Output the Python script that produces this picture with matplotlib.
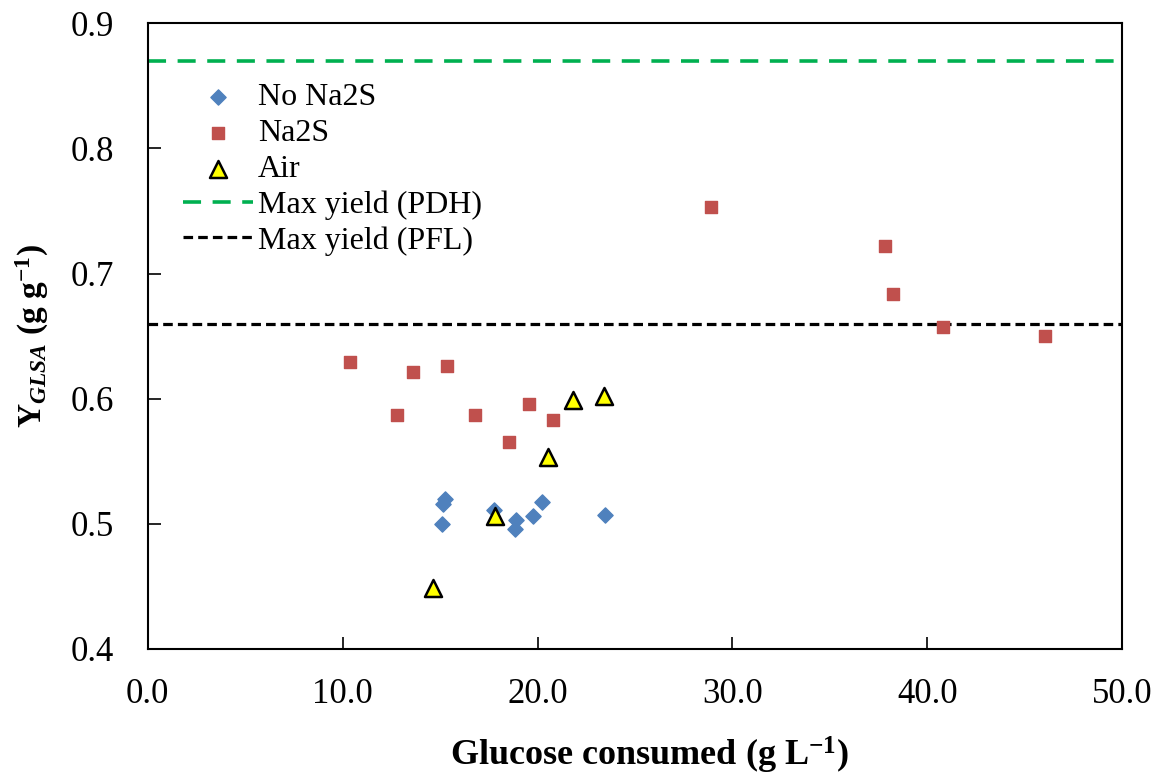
import matplotlib
matplotlib.use("Agg")
import matplotlib.pyplot as plt

plt.rcParams['font.family'] = ['Liberation Serif', 'DejaVu Serif']
plt.rcParams['mathtext.fontset'] = 'custom'
plt.rcParams['mathtext.rm'] = 'Liberation Serif'
plt.rcParams['mathtext.it'] = 'Liberation Serif:italic'
plt.rcParams['mathtext.bf'] = 'Liberation Serif:bold'
plt.rcParams['mathtext.bfit'] = 'Liberation Serif:bold:italic'

# No Na2S
no_na2s_x = [15.11, 15.13, 15.25, 17.78, 18.87, 18.84, 19.76, 20.24, 23.46]
no_na2s_y = [0.500, 0.516, 0.520, 0.511, 0.503, 0.496, 0.506, 0.517, 0.507]
# Na2S
na2s_x = [10.37, 12.78, 13.60, 15.35, 16.79, 18.53, 19.56, 20.79, 28.90, 37.83, 38.24, 40.81, 46.05]
na2s_y = [0.629, 0.587, 0.621, 0.626, 0.587, 0.565, 0.596, 0.583, 0.753, 0.722, 0.684, 0.657, 0.650]
# Air
air_x = [14.65, 17.81, 20.53, 21.83, 23.41]
air_y = [0.449, 0.506, 0.553, 0.599, 0.602]

max_pdh = 0.87
max_pfl = 0.66

x_ticks = [0, 10, 20, 30, 40, 50]
y_ticks = [0.4, 0.5, 0.6, 0.7, 0.8, 0.9]

fig = plt.figure(figsize=(11.63, 7.78), dpi=100)
ax = fig.add_axes([0.127, 0.166, 0.838, 0.804])

ax.scatter(no_na2s_x, no_na2s_y, marker='D', s=60, color='#4F81BD', label='No Na2S', zorder=3)
ax.scatter(na2s_x, na2s_y, marker='s', s=85, color='#C0504D', label='Na2S', zorder=3)
ax.scatter(air_x, air_y, marker='^', s=150, facecolor='#FFFF00', edgecolor='black', linewidths=1.8, label='Air', zorder=4)
ax.axhline(max_pdh, color='#00B050', lw=2.6, dashes=(5, 3.2), label='Max yield (PDH)', zorder=2)
ax.axhline(max_pfl, color='black', lw=2.3, dashes=(3, 1.6), label='Max yield (PFL)', zorder=2)

ax.set_xlim(0, 50)
ax.set_ylim(0.4, 0.9)
ax.set_xticks(x_ticks)
ax.set_xticklabels([f'{v:.1f}' for v in x_ticks])
ax.set_yticks(y_ticks)
ax.set_yticklabels([f'{v:.1f}' for v in y_ticks])
ax.tick_params(direction='in', length=9, width=1.2, labelsize=25)
ax.tick_params(axis='y', pad=24)
ax.tick_params(axis='x', pad=21)
for s in ax.spines.values():
    s.set_linewidth(1.5)

ax.set_xlabel(r'Glucose consumed (g L$^{\mathbf{-1}}$)', fontsize=26, fontweight='bold')
ax.xaxis.set_label_coords(0.515, -0.17)
ax.xaxis.label.set_verticalalignment('center')
ax.set_ylabel(r'$\mathbf{Y}_{\mathbfit{GLSA}}$ (g g$^{\mathbf{-1}}$)', fontsize=24, fontweight='bold', labelpad=14)

leg = ax.legend(loc='upper left', bbox_to_anchor=(0.023, 0.925), frameon=False, fontsize=23,
                handlelength=2.2, handletextpad=0.15, labelspacing=0.2, borderaxespad=0)

fig.savefig('out.png', dpi=100)
